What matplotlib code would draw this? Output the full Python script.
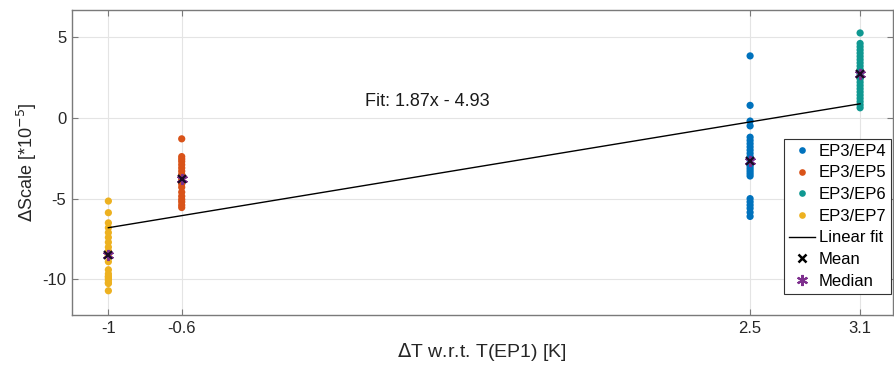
import numpy as np
import matplotlib
matplotlib.use("Agg")
import matplotlib.pyplot as plt
from matplotlib.lines import Line2D

plt.rcParams['font.family'] = ['Liberation Sans', 'DejaVu Sans']
plt.rcParams['axes.unicode_minus'] = False

# --- data (Delta scale in units of 1e-5) ---
labels = ["EP3/EP4", "EP3/EP5", "EP3/EP6", "EP3/EP7"]
delta_t = [2.5, -0.6, 3.1, -1.0]
colors = ["#0072BD", "#D95319", "#0F9891", "#EDB120"]

ep4 = [3.83, 0.77, -0.2, -0.5, -1.2, -1.4, -1.6, -1.8, -2.0, -2.2, -2.4, -2.6,
       -2.8, -3.0, -3.15, -3.3, -3.45, -3.6, -5.0, -5.2, -5.4, -5.6, -5.85, -6.1]
ep5 = [-1.3, -2.4, -2.55, -2.7, -2.9, -3.1, -3.3, -3.5, -3.65, -3.8, -3.95,
       -4.1, -4.3, -4.6, -4.85, -5.05, -5.2, -5.4, -5.55]
ep6 = [5.25, 4.6, 4.4, 4.2, 4.0, 3.8, 3.6, 3.4, 3.2, 3.0, 2.85, 2.7, 2.55,
       2.4, 2.2, 2.0, 1.8, 1.6, 1.4, 1.2, 1.0, 0.8, 0.62]
ep7 = [-5.15, -5.87, -6.5, -6.8, -7.1, -7.4, -7.7, -8.0, -8.25, -8.45, -8.5,
       -8.9, -9.4, -9.65, -9.8, -9.85, -9.95, -10.05, -10.2, -10.25, -10.7]
groups = [ep4, ep5, ep6, ep7]

fit_slope = 1.87
fit_intercept = -4.93
fit_range = [-1.0, 3.1]

xticks = [-1, -0.6, 2.5, 3.1]
xticklabels = ["-1", "-0.6", "2.5", "3.1"]
yticks = [-10, -5, 0, 5]

median_color = "#7E2F8E"

fig = plt.figure(figsize=(8.94, 3.70), dpi=100)
ax = fig.add_axes([0.0802, 0.1486, 0.9188, 0.8257])

# scatter of every group
for x, vals, c, lab in zip(delta_t, groups, colors, labels):
    ax.scatter(np.full(len(vals), x), vals, s=27, color=c, edgecolors='none',
               zorder=3, label=lab)

# linear fit
fx = np.array(fit_range)
ax.plot(fx, fit_slope * fx + fit_intercept, color='black', lw=1.0, zorder=4)
ax.text(0.4, 1.0, f"Fit: {fit_slope:.2f}x - {abs(fit_intercept):.2f}",
        fontsize=13, ha='left', va='center', color='#1a1a1a')

# mean / median markers
for x, vals in zip(delta_t, groups):
    ax.plot(x, np.median(vals), marker=(6, 2, 0), ms=8, mew=1.4,
            color=median_color, ls='none', zorder=5)
    ax.plot(x, np.mean(vals), marker='x', ms=6, mew=1.6,
            color='#1a0a24', ls='none', zorder=6)

ax.set_xlim(-1.2, 3.28)
ax.set_ylim(-12.2, 6.7)
ax.set_xticks(xticks)
ax.set_xticklabels(xticklabels)
ax.set_yticks(yticks)

ax.grid(True, color='#e4e4e4', lw=0.8, zorder=0)
ax.set_axisbelow(True)
for sp in ax.spines.values():
    sp.set_color('#7a7a7a')
    sp.set_linewidth(1.0)
ax.tick_params(direction='in', length=4, width=0.8, color='#7a7a7a',
               top=True, right=True, labelsize=12, labelcolor='#262626', pad=4)

ax.set_xlabel(r"$\Delta$T w.r.t. T(EP1) [K]", fontsize=14, color='#262626', labelpad=4)
ax.set_ylabel(r"$\Delta$Scale [*10$^{-5}$]", fontsize=13, color='#262626', labelpad=2)

# legend
handles = [Line2D([], [], marker='o', ls='none', ms=4.8, mec='none', color=c)
           for c in colors]
handles.append(Line2D([], [], color='black', lw=1.0))
handles.append(Line2D([], [], marker='x', ls='none', ms=6, mew=1.8, color='black'))
handles.append(Line2D([], [], marker=(6, 2, 0), ls='none', ms=8, mew=1.5, color=median_color))
leg_labels = labels + ["Linear fit", "Mean", "Median"]
leg = ax.legend(handles, leg_labels, loc='upper right', bbox_to_anchor=(0.9976, 0.577),
                borderaxespad=0, fontsize=12, labelspacing=0.4, handlelength=1.6,
                handletextpad=0.2, borderpad=0.3, fancybox=False, framealpha=1,
                edgecolor='#333333')
leg.get_frame().set_linewidth(0.8)

fig.savefig("out.png", dpi=100)
